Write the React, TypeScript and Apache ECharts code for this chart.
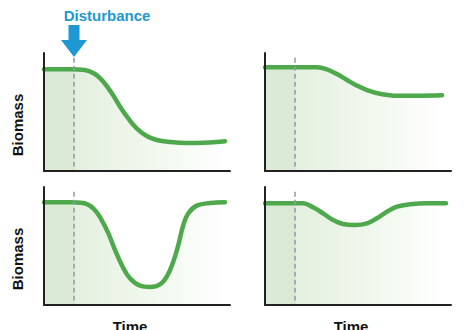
import React, { useEffect, useRef } from "react";
import * as echarts from "echarts";

// Each panel: x in 0..100 (time), y in 0..100 (biomass)
const topLeftX = [0, 14.0, 22.0, 27.4, 31.9, 36.4, 40.9, 45.3, 49.8, 55.2, 60.6, 67.7, 76.7, 85.6, 92.8, 97.3];
const topLeftY = [86.2, 86.2, 85.6, 82.2, 75.7, 66.0, 54.5, 44.6, 36.2, 29.7, 26.3, 24.6, 23.7, 24.0, 24.6, 25.2];

const topRightX = [0, 16.1, 28.0, 33.3, 38.7, 44.1, 49.5, 54.8, 61.8, 71.0, 83.3, 95.2];
const topRightY = [88.0, 88.0, 88.0, 86.2, 82.2, 77.1, 72.3, 68.6, 65.5, 63.8, 63.8, 64.1];

const bottomLeftX = [0, 14.0, 21.1, 26.5, 31.0, 34.6, 38.2, 41.8, 46.2, 51.6, 57.0, 62.4, 66.0, 69.5, 72.2, 74.9, 77.6, 82.1, 89.2, 97.3];
const bottomLeftY = [87.0, 87.0, 86.4, 81.9, 72.0, 60.7, 46.6, 33.9, 22.6, 16.4, 15.3, 17.5, 24.0, 36.7, 50.8, 67.8, 77.7, 84.2, 86.4, 87.0];

const bottomRightX = [0, 16.1, 20.4, 25.8, 31.2, 36.6, 41.9, 48.4, 54.8, 60.2, 65.6, 71.0, 78.0, 87.1, 97.3];
const bottomRightY = [86.2, 86.2, 86.2, 82.8, 77.7, 72.0, 68.6, 67.8, 69.2, 73.5, 79.1, 83.3, 85.3, 86.2, 86.2];

const disturbanceX = 16;
const yAxisTitle = "Biomass";
const xAxisTitle = "Time";
const disturbanceLabel = "Disturbance";

const LINE = "#4ea84c";
const BLUE = "#1e98d3";

export default function App() {
  const ref = useRef<HTMLDivElement>(null);
  useEffect(() => {
    document.body.style.margin = "0";
    const chart = echarts.init(ref.current!, null, { renderer: "svg" });
    const grids = [
      { left: 44, top: 53, width: 186, height: 118 },
      { left: 265, top: 53, width: 186, height: 118 },
      { left: 44, top: 187, width: 186, height: 118 },
      { left: 265, top: 187, width: 186, height: 118 },
    ].map((g) => ({ ...g, outerBoundsMode: "none", containLabel: false }));
    const panels = [
      [topLeftX, topLeftY],
      [topRightX, topRightY],
      [bottomLeftX, bottomLeftY],
      [bottomRightX, bottomRightY],
    ];
    const nameStyle = { fontFamily: "Liberation Sans", fontWeight: "bold" as const, fontSize: 15, color: "#111" };
    const baseAxis = () => ({
      type: "value",
      min: 0,
      max: 100,
      silent: true,
      z: 10,
      axisLine: { show: true, onZero: false, lineStyle: { color: "#222", width: 2 } },
      axisTick: { show: false },
      minorTick: { show: false },
      axisLabel: { show: false },
      splitLine: { show: false },
      minorSplitLine: { show: false },
      axisPointer: { show: false },
    });
    const xAxis = grids.map((_, i) => {
      const ax: any = { ...baseAxis(), gridIndex: i };
      if (i >= 2) {
        ax.name = xAxisTitle;
        ax.nameLocation = "middle";
        ax.nameGap = 14;
        ax.nameTextStyle = { ...nameStyle, padding: [0, 14, 0, 0] };
      }
      return ax;
    });
    const yAxis = grids.map((_, i) => {
      const ax: any = { ...baseAxis(), gridIndex: i };
      if (i % 2 === 0) {
        ax.name = yAxisTitle;
        ax.nameLocation = "middle";
        ax.nameGap = 19;
        ax.nameTextStyle = { ...nameStyle, padding: [0, 26, 0, 0] };
      }
      return ax;
    });
    const series = panels.map(([xs, ys], i) => ({
      type: "line",
      xAxisIndex: i,
      yAxisIndex: i,
      data: xs.map((x, k) => [x, ys[k]]),
      smooth: 0.4,
      showSymbol: false,
      lineStyle: { color: LINE, width: 4.5, cap: "round" },
      areaStyle: {
        color: new echarts.graphic.LinearGradient(0, 0, 1, 0, [
          { offset: 0, color: "#dbead4" },
          { offset: 0.165, color: "#dbead4" },
          { offset: 0.166, color: "#e4f0df" },
          { offset: 0.6, color: "#f1f8ee" },
          { offset: 1, color: "#ffffff" },
        ]),
        opacity: 1,
      },
      markLine: {
        silent: true,
        symbol: "none",
        label: { show: false },
        lineStyle: { color: "#8f9aa6", width: 1.5, type: [5, 3] },
        data: [[{ coord: [disturbanceX, 96] }, { coord: [disturbanceX, 0] }]],
      },
      z: 2,
    }));
    chart.setOption({
      animation: false,
      backgroundColor: "#fff",
      grid: grids,
      xAxis,
      yAxis,
      series,
      graphic: [
        {
          type: "text",
          x: 107,
          y: 15,
          style: {
            text: disturbanceLabel,
            fill: BLUE,
            fontFamily: "Liberation Sans",
            fontWeight: "bold",
            fontSize: 15,
            textAlign: "center",
            textVerticalAlign: "middle",
          },
        },
        {
          type: "polygon",
          shape: {
            points: [
              [68.5, 25],
              [79.5, 25],
              [79.5, 40],
              [87, 40],
              [74, 57],
              [61, 40],
              [68.5, 40],
            ],
          },
          style: { fill: BLUE },
        },
      ],
    });
    return () => chart.dispose();
  }, []);
  return <div ref={ref} style={{ width: 474, height: 330 }} />;
}
